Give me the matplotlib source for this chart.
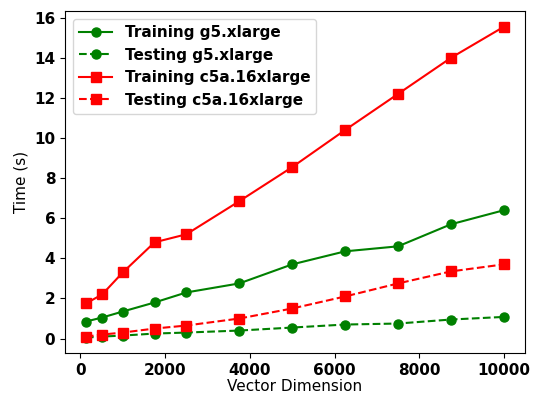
import matplotlib.pyplot as plt

# vector dimensions
dims = [128, 512, 1000, 1750, 2500, 3750, 5000, 6250, 7500, 8750, 10000]

train_g5 = [0.85, 1.05, 1.35, 1.8, 2.3, 2.75, 3.7, 4.35, 4.6, 5.7, 6.4]
test_g5 = [0.05, 0.1, 0.15, 0.25, 0.3, 0.4, 0.55, 0.7, 0.75, 0.95, 1.08]
train_c5a = [1.75, 2.2, 3.3, 4.8, 5.2, 6.85, 8.55, 10.4, 12.2, 14.0, 15.55]
test_c5a = [0.1, 0.2, 0.3, 0.5, 0.65, 1.0, 1.5, 2.1, 2.75, 3.35, 3.7]

fig, ax = plt.subplots(figsize=(5.35, 3.99), dpi=100)
fig.subplots_adjust(left=0.1215, right=0.981, top=0.972, bottom=0.115)

ax.plot(dims, train_g5, color='green', marker='o', ms=6.5, linestyle='-', label='Training g5.xlarge')
ax.plot(dims, test_g5, color='green', marker='o', ms=6.5, linestyle='--', label='Testing g5.xlarge')
ax.plot(dims, train_c5a, color='red', marker='s', ms=6.5, linestyle='-', label='Training c5a.16xlarge')
ax.plot(dims, test_c5a, color='red', marker='s', ms=6.5, linestyle='--', label='Testing c5a.16xlarge')

ax.set_xlabel('Vector Dimension', fontsize=11, labelpad=1)
ax.set_ylabel('Time (s)', fontsize=11)
ax.set_xticks([0, 2000, 4000, 6000, 8000, 10000])
ax.set_yticks(range(0, 17, 2))
ax.tick_params(labelsize=11)
for lbl in ax.get_xticklabels() + ax.get_yticklabels():
    lbl.set_fontweight('bold')

ax.legend(loc='upper left', prop={'weight': 'bold', 'size': 11}, handlelength=2.2)

plt.savefig('out.png', dpi=100)
